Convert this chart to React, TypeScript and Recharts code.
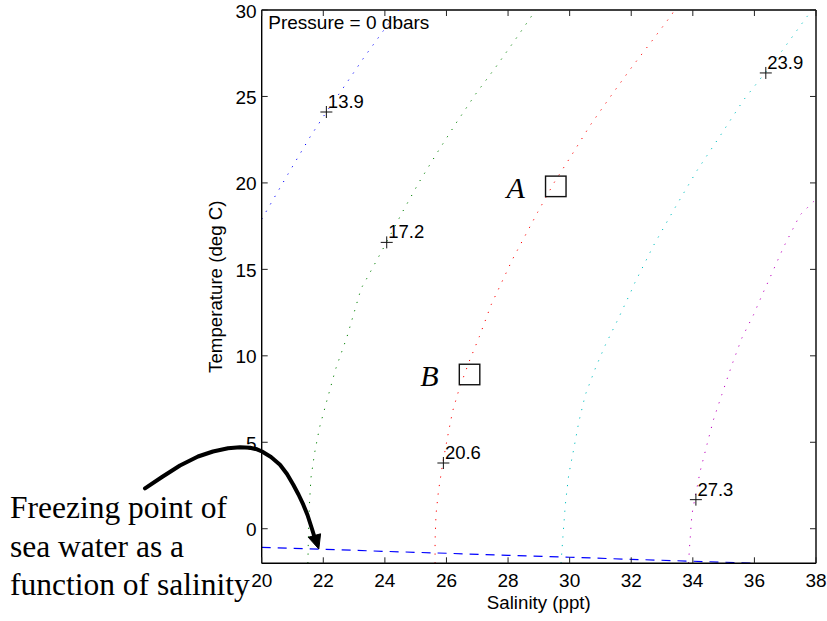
import React from 'react';
import { ComposedChart, Line, Scatter, XAxis, YAxis, ReferenceLine } from 'recharts';

const SANS = '"Liberation Sans", Arial, Helvetica, sans-serif';
const SERIF = '"Liberation Serif", "Times New Roman", Times, serif';

const PLOT = { left: 261.7, right: 816, top: 10, bottom: 563.3 };

const xTicks = [20, 22, 24, 26, 28, 30, 32, 34, 36, 38];
const yTicks = [0, 5, 10, 15, 20, 25, 30];

// Isopycnal curves: [salinity, temperature]
const curve139: [number, number][] = [
  [20.0, 17.9], [20.85, 20.5], [21.55, 22.6], [22.1, 24.1], [22.65, 25.5], [23.3, 27.2], [23.95, 28.8], [24.45, 30.0],
];
const curve172: [number, number][] = [
  [21.5, -2.0], [21.52, -0.15], [21.55, 1.4], [21.6, 2.95], [21.72, 4.4], [21.88, 5.87], [22.1, 7.3], [22.4, 9.23],
  [22.77, 11.1], [23.23, 13.9], [23.39, 14.4], [24.05, 16.55], [24.58, 18.35], [25.12, 20.07], [25.71, 21.78],
  [26.31, 23.45], [26.94, 25.12], [27.61, 26.72], [28.26, 28.35], [28.9, 30.0],
];
const curve206: [number, number][] = [
  [25.63, -2.0], [25.63, -0.7], [25.66, 0.82], [25.74, 2.18], [25.88, 3.8], [26.04, 5.35], [26.2, 6.8], [26.42, 8.13],
  [26.74, 9.68], [27.07, 11.12], [27.45, 12.95], [27.68, 13.82], [28.15, 15.6], [28.96, 18.3], [29.49, 20.0],
  [30.08, 21.65], [30.67, 23.34], [31.32, 24.98], [31.97, 26.58], [32.65, 28.16], [33.32, 29.74], [33.4, 30.0],
];
const curve239: [number, number][] = [
  [29.72, -2.0], [29.78, -0.5], [29.86, 1.4], [29.97, 3.12], [30.14, 4.67], [30.3, 6.2], [30.51, 7.75], [30.84, 9.3],
  [31.16, 10.63], [31.54, 12.0], [32.0, 13.75], [32.11, 14.2], [32.73, 16.4], [33.41, 18.53], [34.13, 20.7],
  [34.89, 22.73], [35.65, 24.8], [36.33, 26.33], [36.89, 27.62], [37.7, 29.6], [37.89, 30.0],
];
const curve273: [number, number][] = [
  [33.86, -2.0], [33.9, -0.9], [33.97, 0.82], [34.06, 1.69], [34.24, 3.33], [34.46, 4.87], [34.67, 6.3], [34.94, 7.75],
  [35.27, 9.48], [35.59, 11.02], [35.97, 12.37], [36.29, 13.68], [36.4, 14.1], [36.94, 16.26], [37.48, 18.14],
  [37.92, 18.92], [38.0, 19.05],
];

// Freezing point line
const freezeSal = [20, 22, 24, 26, 28, 30, 32, 34, 36.1];
const freezeTemp = [-1.08, -1.19, -1.31, -1.42, -1.54, -1.65, -1.77, -1.88, -2.0];

// Contour labels
const labelSal = [22.1, 24.06, 25.9, 36.37, 34.1];
const labelTemp = [24.1, 16.56, 3.8, 26.36, 1.68];
const labelText = ['13.9', '17.2', '20.6', '23.9', '27.3'];

// Water samples
const pointNames = ['A', 'B'];
const pointSal = [29.55, 26.75];
const pointTemp = [19.8, 8.92];

const curves = [
  { id: 'c139', pts: curve139, color: '#0000ff' },
  { id: 'c172', pts: curve172, color: '#008000' },
  { id: 'c206', pts: curve206, color: '#ff0000' },
  { id: 'c239', pts: curve239, color: '#00bfbf' },
  { id: 'c273', pts: curve273, color: '#bf00bf' },
].map((c) => ({ ...c, data: c.pts.map(([x, y]) => ({ x, y })) }));

const freezeData = freezeSal.map((x, i) => ({ x, y: freezeTemp[i] }));
const labelData = labelSal.map((x, i) => ({ x, y: labelTemp[i], label: labelText[i] }));
const pointData = pointSal.map((x, i) => ({ x, y: pointTemp[i], name: pointNames[i] }));

// Annotation arrow (page pixels)
const arrowPts: [number, number][] = [
  [145, 488.3], [162, 477], [180, 465.5], [198, 456.5], [213, 451.5], [228, 448.3], [240, 447.3], [250, 447.8],
  [257, 449.3], [262, 451.5], [271, 457], [280, 464.7], [287, 474], [293.3, 484.7], [298.5, 494.5], [303.3, 504.7],
  [307.5, 515], [311.7, 528], [314.5, 537],
];

const BottomTick = (props: any) => {
  const { x, payload } = props;
  return (
    <g>
      <line x1={x} y1={PLOT.bottom} x2={x} y2={PLOT.bottom - 6} stroke="#222" strokeWidth={1} />
      <line x1={x} y1={PLOT.top} x2={x} y2={PLOT.top + 6} stroke="#222" strokeWidth={1} />
      <text x={x} y={PLOT.bottom + 23.4} textAnchor="middle" fontSize={19} fontFamily={SANS} fill="#000">
        {payload.value}
      </text>
    </g>
  );
};

const LeftTick = (props: any) => {
  const { y, payload } = props;
  return (
    <g>
      <line x1={PLOT.left} y1={y} x2={PLOT.left + 6} y2={y} stroke="#222" strokeWidth={1} />
      <line x1={PLOT.right} y1={y} x2={PLOT.right - 6} y2={y} stroke="#222" strokeWidth={1} />
      <text x={PLOT.left - 5} y={y + 7.5} textAnchor="end" fontSize={19} fontFamily={SANS} fill="#000">
        {payload.value}
      </text>
    </g>
  );
};

const PlusShape = (props: any) => {
  const { cx, cy, payload } = props;
  if (cx == null || cy == null) return null;
  return (
    <g>
      <line x1={cx - 6} y1={cy} x2={cx + 6} y2={cy} stroke="#111" strokeWidth={1} />
      <line x1={cx} y1={cy - 6} x2={cx} y2={cy + 6} stroke="#111" strokeWidth={1} />
      <text x={cx + 1.5} y={cy - 4} fontSize={18.5} fontFamily={SANS} fill="#000">
        {payload.label}
      </text>
    </g>
  );
};

const SquareShape = (props: any) => {
  const { cx, cy, payload } = props;
  if (cx == null || cy == null) return null;
  const s = 20.5;
  return (
    <g>
      <rect x={cx - s / 2} y={cy - s / 2} width={s} height={s} fill="none" stroke="#111" strokeWidth={1.4} />
      <text x={cx - 31} y={cy + 11.5} textAnchor="end" fontSize={30} fontStyle="italic" fontFamily={SERIF} fill="#000">
        {payload.name}
      </text>
    </g>
  );
};

export default function App() {
  return (
    <div style={{ position: 'absolute', left: 0, top: 0, width: 827, height: 621, background: '#fff' }}>
      <ComposedChart width={827} height={621} margin={{ top: 10, right: 11, bottom: 17.7, left: 201.7 }}>
        <XAxis
          type="number"
          dataKey="x"
          domain={[20, 38]}
          ticks={xTicks}
          interval={0}
          allowDataOverflow
          tickLine={false}
          tickSize={0}
          tickMargin={0}
          height={40}
          axisLine={{ stroke: '#000', strokeWidth: 1.4 }}
          tick={(p: any) => <BottomTick {...p} />}
        />
        <YAxis
          type="number"
          dataKey="y"
          domain={[-2, 30]}
          ticks={yTicks}
          interval={0}
          allowDataOverflow
          tickLine={false}
          tickSize={0}
          tickMargin={0}
          width={60}
          axisLine={{ stroke: '#000', strokeWidth: 1.4 }}
          tick={(p: any) => <LeftTick {...p} />}
        />
        <ReferenceLine y={30} stroke="#000" strokeWidth={1.4} />
        <ReferenceLine x={38} stroke="#000" strokeWidth={1.4} />
        {curves.map((c) => (
          <Line
            key={c.id}
            data={c.data}
            dataKey="y"
            type="linear"
            stroke={c.color}
            strokeWidth={1}
            strokeDasharray="1.2 7.4"
            dot={false}
            activeDot={false}
            isAnimationActive={false}
          />
        ))}
        <Line
          data={freezeData}
          dataKey="y"
          type="linear"
          stroke="#0000ff"
          strokeWidth={1.2}
          strokeDasharray="9 7"
          dot={false}
          activeDot={false}
          isAnimationActive={false}
        />
        <Scatter data={labelData} shape={(p: any) => <PlusShape {...p} />} isAnimationActive={false} />
        <Scatter data={pointData} shape={(p: any) => <SquareShape {...p} />} isAnimationActive={false} />
      </ComposedChart>
      <svg width={827} height={621} style={{ position: 'absolute', left: 0, top: 0, pointerEvents: 'none' }}>
        <text x={268.3} y={28.5} fontSize={19} fontFamily={SANS} fill="#000">Pressure = 0 dbars</text>
        <text x={538.8} y={609} textAnchor="middle" fontSize={18.7} fontFamily={SANS} fill="#000">Salinity (ppt)</text>
        <text transform="translate(222,286.7) rotate(-90)" textAnchor="middle" fontSize={18.7} fontFamily={SANS} fill="#000">
          Temperature (deg C)
        </text>
        <text x={10} y={517.7} fontSize={31.5} fontFamily={SERIF} fill="#000">Freezing point of</text>
        <text x={10} y={556.7} fontSize={31.5} fontFamily={SERIF} fill="#000">sea water as a</text>
        <text x={10} y={595} fontSize={31.5} fontFamily={SERIF} fill="#000">function of salinity</text>
        <polyline
          points={arrowPts.map(([x, y]) => `${x},${y}`).join(' ')}
          fill="none"
          stroke="#000"
          strokeWidth={4}
          strokeLinecap="round"
          strokeLinejoin="round"
        />
        <polygon points="318.8,549 308.3,537.3 320.6,533.8" fill="#000" stroke="#000" strokeWidth={1} strokeLinejoin="round" />
      </svg>
    </div>
  );
}
